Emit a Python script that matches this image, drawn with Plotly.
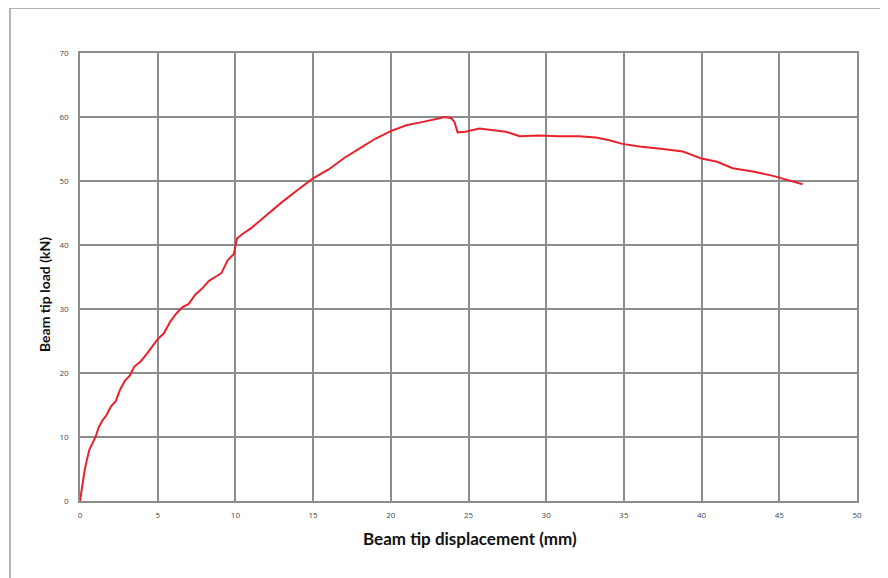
import plotly.graph_objects as go

# Beam tip displacement (mm) and load (kN)
displacement = [0.0, 0.15, 0.3, 0.45, 0.6, 0.8, 1.0, 1.2, 1.45, 1.7, 2.0, 2.3, 2.6, 2.9, 3.2, 3.5,
                3.9, 4.3, 4.7, 5.0, 5.4, 5.8, 6.2, 6.6, 7.0, 7.4, 7.9, 8.3, 8.7, 9.1, 9.5, 9.9,
                10.1, 10.5, 11.0, 11.8, 12.9, 14.0, 15.0, 16.0, 17.0, 18.0, 19.0, 20.0, 21.0,
                22.0, 23.0, 23.5, 23.9, 24.1, 24.3, 24.8, 25.7, 26.5, 27.4, 28.3, 29.5, 30.8,
                32.1, 33.2, 34.0, 34.9, 36.0, 37.5, 38.8, 40.0, 41.0, 42.0, 43.3, 44.6, 45.5, 46.5]
load = [0.0, 2.5, 4.8, 6.5, 8.0, 9.0, 10.0, 11.5, 12.6, 13.4, 14.8, 15.6, 17.5, 18.8, 19.6, 21.0,
        21.8, 23.0, 24.4, 25.3, 26.2, 28.0, 29.3, 30.3, 30.8, 32.2, 33.3, 34.4, 35.0, 35.6, 37.6, 38.6,
        41.0, 41.8, 42.6, 44.3, 46.5, 48.6, 50.4, 51.8, 53.6, 55.1, 56.6, 57.8, 58.7,
        59.2, 59.7, 60.0, 59.8, 59.2, 57.6, 57.7, 58.2, 58.0, 57.7, 57.0, 57.1, 57.0,
        57.0, 56.8, 56.4, 55.8, 55.4, 55.0, 54.6, 53.5, 53.0, 52.0, 51.5, 50.8, 50.2, 49.5]

x_ticks = [0, 5, 10, 15, 20, 25, 30, 35, 40, 45, 50]
y_ticks = [0, 10, 20, 30, 40, 50, 60, 70]

# the page has an 8px body margin, so figure coords = screen coords - 8
OFF = 8
W, H = 888, 578
L, T = 80 - OFF, 53 - OFF
R = W - (857 - OFF)
B = H - (501 - OFF)
pw, ph = W - L - R, H - T - B


def px(sx):
    return (sx - OFF - L) / pw


def py(sy):
    return (H - B - (sy - OFF)) / ph


fig = go.Figure()
fig.add_trace(go.Scatter(x=displacement, y=load, mode="lines",
                         line=dict(color="#e8222b", width=2), showlegend=False,
                         hoverinfo="skip"))

grid = "#8c8c8c"
fig.update_layout(
    width=W, height=H,
    margin=dict(l=L, r=R, t=T, b=B),
    paper_bgcolor="white", plot_bgcolor="white",
    font=dict(family="Open Sans, sans-serif", color="#333333"),
    xaxis=dict(range=[0, 50], tickvals=x_ticks, showgrid=True, gridcolor=grid,
               gridwidth=1.5, zeroline=False, showline=True, linecolor=grid,
               linewidth=1.5, mirror=True, ticks="", tickfont=dict(size=8, color="#444"),
               ticklabelstandoff=6, fixedrange=True),
    yaxis=dict(range=[0, 70], tickvals=y_ticks, showgrid=True, gridcolor=grid,
               gridwidth=1.5, zeroline=False, showline=True, linecolor=grid,
               linewidth=1.5, mirror=True, ticks="", tickfont=dict(size=8, color="#444"),
               ticklabelstandoff=8, fixedrange=True),
)

# outer frame
fig.add_shape(type="rect", xref="paper", yref="paper",
              x0=px(10), x1=px(W + 40),
              y0=py(H + 40), y1=py(8),
              line=dict(color="#9a9a9a", width=1.5), fillcolor="rgba(0,0,0,0)", layer="below")

fig.add_annotation(text="<b>Beam tip displacement (mm)</b>", xref="paper", yref="paper",
                   x=px(470), y=py(538), showarrow=False,
                   font=dict(size=17, family="Lato, sans-serif", color="#111"),
                   xanchor="center", yanchor="middle")
fig.add_annotation(text="<b>Beam tip load (kN)</b>", xref="paper", yref="paper",
                   x=px(44), y=py(295), showarrow=False, textangle=-90,
                   font=dict(size=14, family="Lato, sans-serif", color="#111"),
                   xanchor="center", yanchor="middle")

fig.write_html("out.html")
